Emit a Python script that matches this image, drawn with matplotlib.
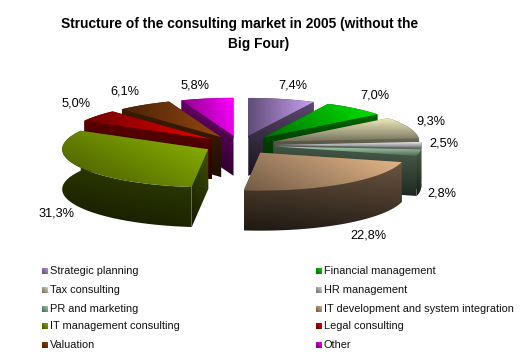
import numpy as np
import matplotlib
matplotlib.use("Agg")
import matplotlib.pyplot as plt
from matplotlib.patches import Polygon
from matplotlib.colors import LinearSegmentedColormap, to_rgb

categories = ["Strategic planning", "Financial management", "Tax consulting", "HR management",
              "PR and marketing", "IT development and system integration",
              "IT management consulting", "Legal consulting", "Valuation", "Other"]
values = [7.4, 7.0, 9.3, 2.5, 2.8, 22.8, 31.3, 5.0, 6.1, 5.8]
value_labels = ["7,4%", "7,0%", "9,3%", "2,5%", "2,8%", "22,8%", "31,3%", "5,0%", "6,1%", "5,8%"]
colors = ["#c9a0f5", "#00e600", "#efe9bd", "#e8e8e8", "#a8d8b0", "#ecbc8e",
          "#8fb800", "#e80000", "#96480f", "#ff00ff"]
title_lines = ["Structure of the consulting market in 2005 (without the", "Big Four)"]

W, H = 521, 359
CX, CY = 240, 145          # pie centre (px)
RX, RY = 146, 38           # ellipse radii (px)
EXPLODE = 0.245
DEPTH = 40
# painter order, back to front
order = [9, 0, 8, 1, 7, 2, 3, 4, 6, 5]
grad_dirs = {0: (1, 0), 1: (1, -.3), 2: (0, -1), 3: (0, -1), 4: (0, -1),
             5: (1, -.5), 6: (.8, -.6), 7: (1, 0), 8: (1, 0), 9: (1, -.2)}
label_xy = [(293, 85), (375, 95), (431, 122), (444, 143), (442, 194),
            (368, 236), (57, 214), (76, 104), (125, 91), (195, 85)]
title_xy = [(240, 24), (259, 44)]
legend_x = [42, 316]
legend_y = [271, 290, 309, 326, 345]

fig = plt.figure(figsize=(W / 100, H / 100), dpi=100)
ax = fig.add_axes([0, 0, 1, 1])
ax.set_axis_off()
plt.rcParams['font.family'] = ['Liberation Sans', 'DejaVu Sans']


def scale(col, k):
    return tuple(min(1, c * k) for c in to_rgb(col))


z = [2]


def fill(pts, c0, c1, d):
    """Polygon filled with a linear gradient from c0 to c1 along direction d."""
    pts = np.asarray(pts)
    x0, y0 = pts.min(axis=0)
    x1, y1 = pts.max(axis=0)
    xx, yy = np.meshgrid(np.linspace(0, 1, 64), np.linspace(0, 1, 64))
    t = xx * d[0] + yy * d[1]
    t = (t - t.min()) / (t.max() - t.min())
    cmap = LinearSegmentedColormap.from_list("g", [c0, c1])
    z[0] += 1
    im = ax.imshow(t, cmap=cmap, extent=(x0, x1 + .01, y1 + .01, y0), aspect="auto",
                   interpolation="bilinear", zorder=z[0])
    poly = Polygon(pts, closed=True, transform=ax.transData, facecolor="none", edgecolor="none")
    ax.add_patch(poly)
    im.set_clip_path(poly)


cum = np.concatenate([[0], np.cumsum(values)]) / sum(values) * 2 * np.pi
for i in order:
    a0, a1 = cum[i], cum[i + 1]
    mid = (a0 + a1) / 2
    ax_, ay_ = CX + EXPLODE * RX * np.sin(mid), CY - EXPLODE * RY * np.cos(mid)
    th = np.linspace(a0, a1, 60)
    rim = np.column_stack([ax_ + RX * np.sin(th), ay_ - RY * np.cos(th)])
    apex = np.array([ax_, ay_])
    down = np.array([0, DEPTH])
    col = colors[i]
    faces = [np.vstack([[apex], rim[:1], rim[:1] + down, [apex + down]]),
             np.vstack([[apex], rim[-1:], rim[-1:] + down, [apex + down]]),
             np.vstack([rim, (rim + down)[::-1]])]
    faces.sort(key=lambda f: f[:, 1].mean())
    for f in faces:
        fill(f, scale(col, .45), scale(col, .13), (-0.25, 1))
    fill(np.vstack([[apex], rim]), scale(col, .48), col, grad_dirs[i])

for xy, s in zip(label_xy, value_labels):
    ax.text(xy[0], xy[1], s, fontsize=9.2, ha="center", va="center", color="black", zorder=900)

for (tx, ty), line in zip(title_xy, title_lines):
    ax.text(tx, ty, line, fontsize=9.9, fontweight="bold", ha="center", va="center",
            color="black", zorder=900)

for j, name in enumerate(categories):
    lx, ly = legend_x[j % 2], legend_y[j // 2]
    sq = [(lx, ly - 3), (lx + 6, ly - 3), (lx + 6, ly + 3), (lx, ly + 3)]
    fill(sq, scale(colors[j], .45), colors[j], (1, -1))
    ax.text(lx + 8, ly, name, fontsize=7.95, ha="left", va="center", color="#111111", zorder=900)

ax.set_xlim(0, W)
ax.set_ylim(H, 0)
fig.savefig("out.png", dpi=100, facecolor="white")
